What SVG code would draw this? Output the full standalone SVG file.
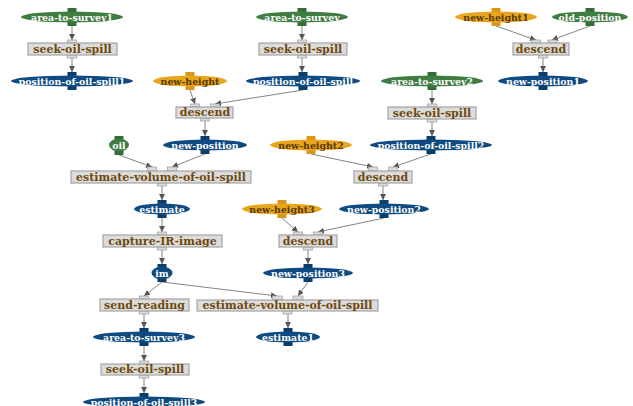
<svg xmlns="http://www.w3.org/2000/svg" width="633" height="406" viewBox="0 0 633 406">
  <defs>
    <marker id="arr" viewBox="0 0 8 8" refX="8" refY="4" markerWidth="6" markerHeight="6" orient="auto" markerUnits="userSpaceOnUse">
      <path d="M0,0 L8,4 L0,8 z" fill="#555"/>
    </marker>
    <style>
      .bg { fill: #ffffff; }
      .box rect.b { fill: #dcdcdc; stroke: #a3a3a3; stroke-width: 1.2; }
      .port { fill: #dcdcdc; stroke: #a3a3a3; stroke-width: 0.8; }
      .box text { font-family: "DejaVu Serif", "Liberation Serif", serif; font-weight: bold; font-size: 11px; fill: #6e4a0c; text-anchor: middle; dominant-baseline: central; }
      .ell text { font-family: "DejaVu Serif", "Liberation Serif", serif; font-weight: bold; font-size: 9.4px; fill: #ffffff; text-anchor: middle; dominant-baseline: central; }
      .green ellipse { fill: #3f7d43; }
      .green rect { fill: #356c38; }
      .blue ellipse { fill: #0f4b80; }
      .blue rect { fill: #0b3d6b; }
      .orange ellipse { fill: #e8a51e; }
      .orange rect { fill: #d9961a; }
      .orange text { fill: #5a3a06; }
      .edges line { stroke: #777; stroke-width: 0.9; marker-end: url(#arr); }
    </style>
  </defs>
  <rect class="bg" x="0" y="0" width="633" height="406"/>

  <g class="edges" id="connectors">
    <line x1="72" y1="26" x2="72" y2="40"/>
    <line x1="72" y1="58" x2="72" y2="72"/>
    <line x1="302" y1="26" x2="302" y2="40"/>
    <line x1="302" y1="58" x2="302" y2="72"/>
    <line x1="496" y1="26" x2="536" y2="40"/>
    <line x1="590" y1="26" x2="552" y2="40"/>
    <line x1="543" y1="58" x2="543" y2="72"/>
    <line x1="190" y1="90" x2="195" y2="104"/>
    <line x1="303" y1="90" x2="215" y2="104"/>
    <line x1="205" y1="121" x2="205" y2="136"/>
    <line x1="119" y1="155" x2="152" y2="167"/>
    <line x1="205" y1="154" x2="172" y2="167"/>
    <line x1="162" y1="186" x2="162" y2="200"/>
    <line x1="162" y1="218" x2="162" y2="232"/>
    <line x1="162" y1="250" x2="162" y2="264"/>
    <line x1="162" y1="282" x2="144" y2="296"/>
    <line x1="162" y1="282" x2="277" y2="296"/>
    <line x1="144" y1="314" x2="144" y2="328"/>
    <line x1="144" y1="346" x2="144" y2="361"/>
    <line x1="144" y1="378" x2="144" y2="393"/>
    <line x1="432" y1="90" x2="432" y2="104"/>
    <line x1="432" y1="122" x2="432" y2="136"/>
    <line x1="311" y1="154" x2="373" y2="167"/>
    <line x1="431" y1="154" x2="393" y2="167"/>
    <line x1="383" y1="186" x2="383" y2="200"/>
    <line x1="282" y1="218" x2="298" y2="232"/>
    <line x1="384" y1="218" x2="318" y2="232"/>
    <line x1="308" y1="250" x2="308" y2="264"/>
    <line x1="308" y1="282" x2="298" y2="296"/>
    <line x1="288" y1="314" x2="288" y2="328"/>
  </g>

  <!-- data items (ellipses with tabs) -->
  <g id="area-to-survey1" class="ell green">
    <rect x="67.5" y="8" width="9" height="18"/>
    <ellipse cx="72" cy="17" rx="51" ry="5.5"/>
    <text x="72" y="17">area-to-survey1</text>
  </g>
  <g id="area-to-survey" class="ell green">
    <rect x="297.5" y="8" width="9" height="18"/>
    <ellipse cx="302" cy="17" rx="46" ry="5.5"/>
    <text x="302" y="17">area-to-survey</text>
  </g>
  <g id="new-height1" class="ell orange">
    <rect x="491.5" y="8" width="9" height="18"/>
    <ellipse cx="496" cy="17" rx="41" ry="5.5"/>
    <text x="496" y="17">new-height1</text>
  </g>
  <g id="old-position" class="ell green">
    <rect x="585.5" y="8" width="9" height="18"/>
    <ellipse cx="590" cy="17" rx="38" ry="5.5"/>
    <text x="590" y="17">old-position</text>
  </g>
  <g id="position-of-oil-spill1" class="ell blue">
    <rect x="67.5" y="72" width="9" height="18"/>
    <ellipse cx="72" cy="81" rx="61" ry="5.5"/>
    <text x="72" y="81">position-of-oil-spill1</text>
  </g>
  <g id="new-height" class="ell orange">
    <rect x="185.5" y="72" width="9" height="18"/>
    <ellipse cx="190" cy="81" rx="37" ry="5.5"/>
    <text x="190" y="81">new-height</text>
  </g>
  <g id="position-of-oil-spill" class="ell blue">
    <rect x="298.5" y="72" width="9" height="18"/>
    <ellipse cx="303" cy="81" rx="57" ry="5.5"/>
    <text x="303" y="81">position-of-oil-spill</text>
  </g>
  <g id="area-to-survey2" class="ell green">
    <rect x="427.5" y="72" width="9" height="18"/>
    <ellipse cx="432" cy="81" rx="51" ry="5.5"/>
    <text x="432" y="81">area-to-survey2</text>
  </g>
  <g id="new-position1" class="ell blue">
    <rect x="538.5" y="72" width="9" height="18"/>
    <ellipse cx="543" cy="81" rx="45" ry="5.5"/>
    <text x="543" y="81">new-position1</text>
  </g>
  <g id="oil" class="ell green">
    <rect x="114.5" y="136" width="9" height="19"/>
    <ellipse cx="119" cy="145" rx="10" ry="6.5"/>
    <text x="119" y="145">oil</text>
  </g>
  <g id="new-position" class="ell blue">
    <rect x="200.5" y="136" width="9" height="18"/>
    <ellipse cx="205" cy="145" rx="42" ry="5.5"/>
    <text x="205" y="145">new-position</text>
  </g>
  <g id="new-height2" class="ell orange">
    <rect x="306.5" y="136" width="9" height="18"/>
    <ellipse cx="311" cy="145" rx="41" ry="5.5"/>
    <text x="311" y="145">new-height2</text>
  </g>
  <g id="position-of-oil-spill2" class="ell blue">
    <rect x="426.5" y="136" width="9" height="18"/>
    <ellipse cx="431" cy="145" rx="61" ry="5.5"/>
    <text x="431" y="145">position-of-oil-spill2</text>
  </g>
  <g id="estimate" class="ell blue">
    <rect x="157.5" y="200" width="9" height="18"/>
    <ellipse cx="162" cy="209" rx="28" ry="5.5"/>
    <text x="162" y="209">estimate</text>
  </g>
  <g id="new-height3" class="ell orange">
    <rect x="277.5" y="200" width="9" height="18"/>
    <ellipse cx="282" cy="209" rx="40" ry="5.5"/>
    <text x="282" y="209">new-height3</text>
  </g>
  <g id="new-position2" class="ell blue">
    <rect x="379.5" y="200" width="9" height="18"/>
    <ellipse cx="384" cy="209" rx="45" ry="5.5"/>
    <text x="384" y="209">new-position2</text>
  </g>
  <g id="im" class="ell blue">
    <rect x="157.5" y="264" width="9" height="18"/>
    <ellipse cx="162" cy="273" rx="10.5" ry="6.5"/>
    <text x="162" y="273">im</text>
  </g>
  <g id="new-position3" class="ell blue">
    <rect x="303.5" y="264" width="9" height="18"/>
    <ellipse cx="308" cy="273" rx="45" ry="5.5"/>
    <text x="308" y="273">new-position3</text>
  </g>
  <g id="area-to-survey3" class="ell blue">
    <rect x="139.5" y="328" width="9" height="18"/>
    <ellipse cx="144" cy="337" rx="51" ry="5.5"/>
    <text x="144" y="337">area-to-survey3</text>
  </g>
  <g id="estimate1" class="ell blue">
    <rect x="283.5" y="328" width="9" height="18"/>
    <ellipse cx="288" cy="337" rx="32" ry="5.5"/>
    <text x="288" y="337">estimate1</text>
  </g>
  <g id="position-of-oil-spill3" class="ell blue">
    <rect x="139.5" y="393" width="9" height="18"/>
    <ellipse cx="144" cy="402" rx="61" ry="5.5"/>
    <text x="144" y="402">position-of-oil-spill3</text>
  </g>

  <!-- actions (boxes with ports) -->
  <g id="seek-oil-spill-1" class="box">
    <rect class="port" x="67.5" y="40" width="9" height="3"/>
    <rect class="port" x="67.5" y="55" width="9" height="3"/>
    <rect class="b" x="28" y="43" width="89" height="12"/>
    <text x="72.5" y="49">seek-oil-spill</text>
  </g>
  <g id="seek-oil-spill-2" class="box">
    <rect class="port" x="297.5" y="40" width="9" height="3"/>
    <rect class="port" x="297.5" y="55" width="9" height="3"/>
    <rect class="b" x="259" y="43" width="88" height="12"/>
    <text x="303" y="49">seek-oil-spill</text>
  </g>
  <g id="descend-1" class="box">
    <rect class="port" x="531.5" y="40" width="9" height="3"/>
    <rect class="port" x="548" y="40" width="9" height="3"/>
    <rect class="port" x="538.5" y="55" width="9" height="3"/>
    <rect class="b" x="513" y="43" width="56" height="12"/>
    <text x="541" y="49">descend</text>
  </g>
  <g id="descend-2" class="box">
    <rect class="port" x="190.5" y="104" width="9" height="3"/>
    <rect class="port" x="210.5" y="104" width="9" height="3"/>
    <rect class="port" x="200.5" y="118" width="9" height="3"/>
    <rect class="b" x="176" y="107" width="57" height="11"/>
    <text x="205" y="112.5">descend</text>
  </g>
  <g id="seek-oil-spill-3" class="box">
    <rect class="port" x="427.5" y="104" width="9" height="3"/>
    <rect class="port" x="427.5" y="119" width="9" height="3"/>
    <rect class="b" x="388" y="107" width="88" height="12"/>
    <text x="432" y="113">seek-oil-spill</text>
  </g>
  <g id="estimate-volume-of-oil-spill-1" class="box">
    <rect class="port" x="147.5" y="167" width="9" height="4"/>
    <rect class="port" x="167.5" y="167" width="9" height="4"/>
    <rect class="port" x="157.5" y="183" width="9" height="3"/>
    <rect class="b" x="71" y="171" width="180" height="12"/>
    <text x="161" y="177">estimate-volume-of-oil-spill</text>
  </g>
  <g id="descend-3" class="box">
    <rect class="port" x="368.5" y="167" width="9" height="4"/>
    <rect class="port" x="388.5" y="167" width="9" height="4"/>
    <rect class="port" x="378.5" y="183" width="9" height="3"/>
    <rect class="b" x="354" y="171" width="58" height="12"/>
    <text x="383" y="177">descend</text>
  </g>
  <g id="capture-IR-image" class="box">
    <rect class="port" x="157.5" y="232" width="9" height="3"/>
    <rect class="port" x="157.5" y="247" width="9" height="3"/>
    <rect class="b" x="103" y="235" width="119" height="12"/>
    <text x="162.5" y="241">capture-IR-image</text>
  </g>
  <g id="descend-4" class="box">
    <rect class="port" x="293.5" y="232" width="9" height="3"/>
    <rect class="port" x="313.5" y="232" width="9" height="3"/>
    <rect class="port" x="303.5" y="247" width="9" height="3"/>
    <rect class="b" x="279" y="235" width="58" height="12"/>
    <text x="308" y="241">descend</text>
  </g>
  <g id="send-reading" class="box">
    <rect class="port" x="139.5" y="296" width="9" height="3"/>
    <rect class="port" x="139.5" y="311" width="9" height="3"/>
    <rect class="b" x="100" y="299" width="89" height="12"/>
    <text x="144.5" y="305">send-reading</text>
  </g>
  <g id="estimate-volume-of-oil-spill-2" class="box">
    <rect class="port" x="272.5" y="296" width="10" height="4"/>
    <rect class="port" x="293" y="296" width="10" height="4"/>
    <rect class="port" x="283" y="311" width="9" height="3"/>
    <rect class="b" x="197" y="300" width="181" height="11"/>
    <text x="287.5" y="305.5">estimate-volume-of-oil-spill</text>
  </g>
  <g id="seek-oil-spill-4" class="box">
    <rect class="port" x="139.5" y="361" width="9" height="3"/>
    <rect class="port" x="139.5" y="375" width="9" height="3"/>
    <rect class="b" x="101" y="364" width="88" height="11"/>
    <text x="145" y="369.5">seek-oil-spill</text>
  </g>
</svg>
